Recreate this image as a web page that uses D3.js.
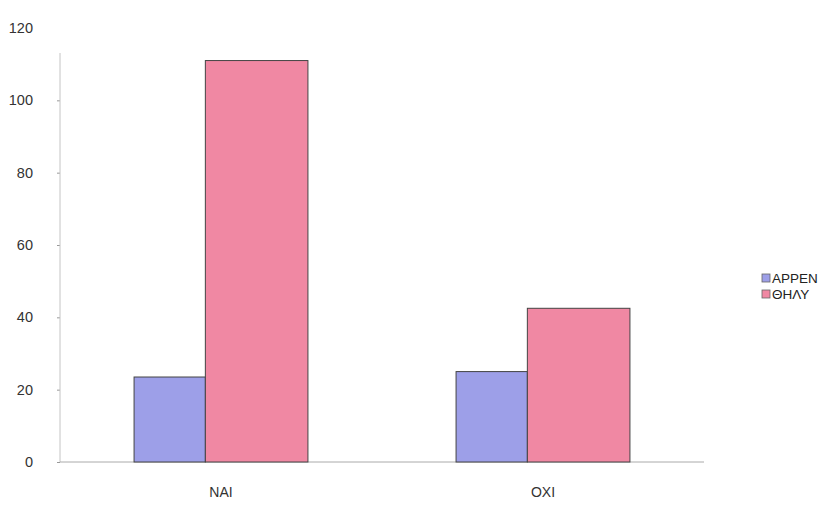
<!DOCTYPE html>
<html>
<head>
<meta charset="utf-8">
<script src="https://cdn.jsdelivr.net/npm/d3@7"></script>
<style>
  html, body { margin: 0; padding: 0; background: #fff; }
  svg { display: block; font-family: "Liberation Sans", Arial, sans-serif; }
</style>
</head>
<body>
<svg id="chart" width="840" height="505"></svg>
<script>
// Answers (yes / no) split by sex
const categories = ["ΝΑΙ", "ΟΧΙ"];
const seriesNames = ["ΑΡΡΕΝ", "ΘΗΛΥ"];
const arrenValues = [23.5, 25];
const thilyValues = [111, 42.5];
const yTicks = [0, 20, 40, 60, 80, 100, 120];

const colors = ["#9d9fe8", "#f088a3"];
const seriesShare = [0.41, 0.59];   // relative bar widths inside a group

const svg = d3.select("#chart");
const margin = { left: 60, right: 136, top: 28, bottom: 43 };
const W = 840, H = 505;

const x = d3.scaleBand()
  .domain(categories)
  .range([margin.left, W - margin.right])
  .paddingInner(0.46)
  .paddingOuter(0.23);

const y = d3.scaleLinear()
  .domain([0, 120])
  .range([H - margin.bottom, margin.top]);

const seriesValues = [arrenValues, thilyValues];

// y axis: light rule with tick labels to the left
const yAxis = svg.append("g")
  .attr("transform", `translate(${margin.left},0)`)
  .call(d3.axisLeft(y).tickValues(yTicks).tickSize(3).tickPadding(24));
yAxis.select(".domain").remove();
yAxis.selectAll(".tick line").attr("stroke", "#999");
yAxis.select(".tick:last-of-type line").remove();
yAxis.selectAll(".tick text")
  .attr("fill", "#333")
  .attr("font-size", 14.5);
svg.append("line")
  .attr("x1", margin.left).attr("x2", margin.left)
  .attr("y1", y(0)).attr("y2", y(0) - 409)
  .attr("stroke", "#c4c4c4").attr("stroke-width", 1);

// baseline
svg.append("line")
  .attr("x1", margin.left).attr("x2", W - margin.right)
  .attr("y1", y(0)).attr("y2", y(0))
  .attr("stroke", "#aaa").attr("stroke-width", 1);

// bars
const groups = svg.append("g").selectAll("g")
  .data(categories)
  .join("g");

groups.each(function(cat, ci) {
  const g = d3.select(this);
  let x0 = x(cat);
  seriesNames.forEach((s, si) => {
    const w = x.bandwidth() * seriesShare[si];
    const v = seriesValues[si][ci];
    g.append("rect")
      .attr("x", x0)
      .attr("y", y(v))
      .attr("width", w)
      .attr("height", y(0) - y(v))
      .attr("fill", colors[si])
      .attr("stroke", "#444")
      .attr("stroke-width", 1);
    x0 += w;
  });
});

// category labels
const xAxis = svg.append("g")
  .attr("transform", `translate(0,${y(0)})`)
  .call(d3.axisBottom(x).tickSize(0).tickPadding(25));
xAxis.select(".domain").remove();
xAxis.selectAll(".tick text")
  .attr("fill", "#333")
  .attr("font-size", 14);

// legend
const legend = svg.append("g").attr("transform", "translate(762,274)");
seriesNames.forEach((s, i) => {
  const row = legend.append("g").attr("transform", `translate(0,${i * 16})`);
  row.append("rect")
    .attr("x", 0).attr("y", 0).attr("width", 8).attr("height", 8)
    .attr("fill", colors[i]).attr("stroke", "#666").attr("stroke-width", 0.8);
  row.append("text")
    .attr("x", 10).attr("y", 9)
    .attr("font-size", 13.5)
    .attr("fill", "#222")
    .text(s);
});
</script>
</body>
</html>
